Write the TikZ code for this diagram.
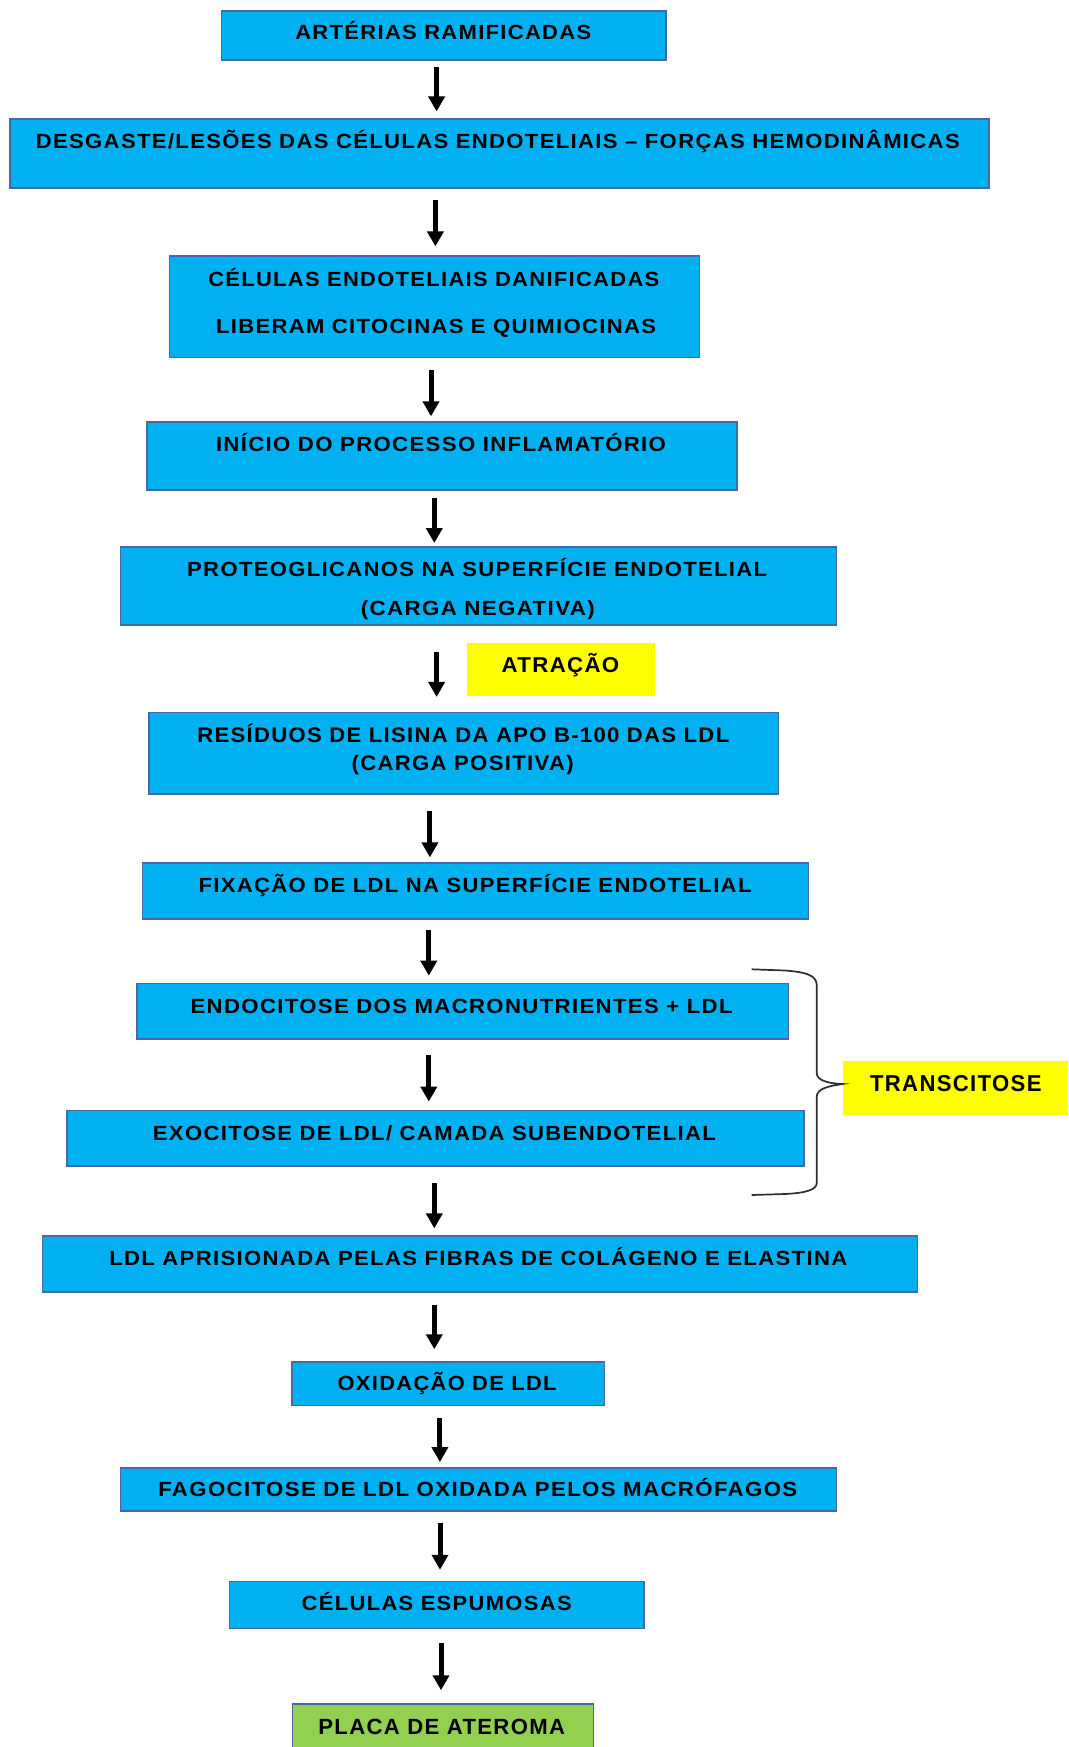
\documentclass[tikz,border=0pt]{standalone}
\usepackage{fontspec}
\usepackage{graphicx}
\setmainfont{Liberation Sans}
\newfontfamily\boxfont[LetterSpace=6]{Liberation Sans}
\usetikzlibrary{arrows.meta}

\definecolor{boxblue}{RGB}{0,176,240}
\definecolor{boxedge}{RGB}{68,104,168}
\definecolor{hiyellow}{RGB}{255,255,0}
\definecolor{plaquegreen}{RGB}{146,208,80}
\definecolor{bracegray}{RGB}{45,45,45}

% set a label to a given width by stretching it horizontally
\newlength\fitlen
\newcommand\fitw[2]{\settowidth\fitlen{#2}\pgfmathsetmacro\fitratio{#1/\fitlen}\scalebox{\fitratio}[1]{#2}}

\tikzset{
  box/.style={draw=boxedge, line width=1.5pt, fill=boxblue, inner sep=0pt},
  plaque/.style={draw=boxedge, line width=1.5pt, fill=plaquegreen, inner sep=0pt},
  tag/.style={fill=hiyellow, inner sep=0pt},
  lbl/.style={anchor=base, inner sep=0pt, font=\boxfont\bfseries\fontsize{#1}{#1}\selectfont},
  lbl/.default=20.5,
  flow/.style={line width=5pt, -{Triangle[width=16pt,length=15pt]}},
  brace/.style={draw=bracegray, line width=1.7pt}
}

\begin{document}
\begin{tikzpicture}[x=1pt,y=-1pt]
\useasboundingbox (0,0) rectangle (1068,1747);
\clip (0,0) rectangle (1068,1747);

% boxes
\node[box, minimum width=444.4pt, minimum height=49pt]   (b1)  at (443.8,35.6)   {};
\node[box, minimum width=978.9pt, minimum height=69pt]   (b2)  at (499.45,153.7) {};
\node[box, minimum width=530.1pt, minimum height=101.4pt](b3)  at (434.35,306.8) {};
\node[box, minimum width=590.2pt, minimum height=67.9pt] (b4)  at (442.1,456.05) {};
\node[box, minimum width=716.1pt, minimum height=78pt]   (b5)  at (478.35,585.8) {};
\node[box, minimum width=629.2pt, minimum height=81.3pt] (b6)  at (463.8,753.35) {};
\node[box, minimum width=666pt,   minimum height=55.7pt] (b7)  at (475.5,890.95) {};
\node[box, minimum width=651.5pt, minimum height=55.6pt] (b8)  at (462.75,1011.2){};
\node[box, minimum width=737.3pt, minimum height=55.7pt] (b9)  at (435.45,1138.15){};
\node[box, minimum width=875.4pt, minimum height=55.7pt] (b10) at (480,1263.95)  {};
\node[box, minimum width=312.9pt, minimum height=43.4pt] (b11) at (448.25,1383.7){};
\node[box, minimum width=716.1pt, minimum height=43.4pt] (b12) at (478.35,1489.5){};
\node[box, minimum width=414.6pt, minimum height=47pt]   (b13) at (436.7,1605)   {};
\node[plaque, minimum width=300.6pt, minimum height=60pt](b14) at (443,1734)     {};

\node[tag, minimum width=188.6pt, minimum height=53.5pt] (attr)  at (561,669.5)    {};
\node[tag, minimum width=230pt,   minimum height=54.3pt] (trans) at (957.7,1087.85){};

% texts
\node[lbl] (t1)  at (443.3,39.5)   {\fitw{296}{ARTÉRIAS RAMIFICADAS}};
\node[lbl] (t2)  at (497.8,148.6)  {\fitw{924}{DESGASTE/LESÕES DAS CÉLULAS ENDOTELIAIS – FORÇAS HEMODINÂMICAS}};
\node[lbl] (t3a) at (433.8,286.2)  {\fitw{451}{CÉLULAS ENDOTELIAIS DANIFICADAS}};
\node[lbl] (t3b) at (436,333.9)    {\fitw{440}{LIBERAM CITOCINAS E QUIMIOCINAS}};
\node[lbl] (t4)  at (441,451.6)    {\fitw{450}{INÍCIO DO PROCESSO INFLAMATÓRIO}};
\node[lbl] (t5a) at (477.2,576.3)  {\fitw{580}{PROTEOGLICANOS NA SUPERFÍCIE ENDOTELIAL}};
\node[lbl] (t5b) at (477.8,615.2)  {\fitw{234}{(CARGA NEGATIVA)}};
\node[lbl=21.5] (ta) at (560.5,672.7) {\fitw{117.6}{ATRAÇÃO}};
\node[lbl=21] (t6a) at (463.3,742.3) {\fitw{532}{RESÍDUOS DE LISINA DA APO B-100 DAS LDL}};
\node[lbl=21] (t6b) at (462.7,770.3) {\fitw{222}{(CARGA POSITIVA)}};
\node[lbl] (t7)  at (475,892.6)    {\fitw{553}{FIXAÇÃO DE LDL NA SUPERFÍCIE ENDOTELIAL}};
\node[lbl] (t8)  at (461.6,1013.9) {\fitw{542}{ENDOCITOSE DOS MACRONUTRIENTES + LDL}};
\node[lbl] (t9)  at (434.4,1140.2) {\fitw{563}{EXOCITOSE DE LDL/ CAMADA SUBENDOTELIAL}};
\node[lbl=23] (tt) at (955.8,1091.5) {\fitw{171.5}{TRANSCITOSE}};
\node[lbl] (t10) at (478.3,1265.4) {\fitw{738}{LDL APRISIONADA PELAS FIBRAS DE COLÁGENO E ELASTINA}};
\node[lbl] (t11) at (447.1,1390.4) {\fitw{219}{OXIDAÇÃO DE LDL}};
\node[lbl] (t12) at (477.8,1496.1) {\fitw{639}{FAGOCITOSE DE LDL OXIDADA PELOS MACRÓFAGOS}};
\node[lbl] (t13) at (436.7,1610.9) {\fitw{270}{CÉLULAS ESPUMOSAS}};
\node[lbl=22] (t14) at (441.7,1734.6) {\fitw{246.7}{PLACA DE ATEROMA}};

% arrow columns
\coordinate (c1)  at (436.6,0);
\coordinate (c2)  at (435.4,0);
\coordinate (c3)  at (431.0,0);
\coordinate (c4)  at (434.3,0);
\coordinate (c5)  at (436.6,0);
\coordinate (c6)  at (429.9,0);
\coordinate (c7)  at (428.8,0);
\coordinate (c8)  at (428.8,0);
\coordinate (c9)  at (434.3,0);
\coordinate (c10) at (434.3,0);
\coordinate (c11) at (439.9,0);
\coordinate (c12) at (440.0,0);
\coordinate (c13) at (441.0,0);

% arrows
\draw[flow, shorten <=6pt,  shorten >=7pt]  (b1.south -| c1)  -- (b2.north -| c1);
\draw[flow, shorten <=11pt, shorten >=9pt]  (b2.south -| c2)  -- (b3.north -| c2);
\draw[flow, shorten <=12pt, shorten >=5pt]  (b3.south -| c3)  -- (b4.north -| c3);
\draw[flow, shorten <=7pt,  shorten >=3pt]  (b4.south -| c4)  -- (b5.north -| c4);
\draw[flow, shorten <=26pt, shorten >=15pt] (b5.south -| c5)  -- (b6.north -| c5);
\draw[flow, shorten <=16pt, shorten >=5pt]  (b6.south -| c6)  -- (b7.north -| c6);
\draw[flow, shorten <=10pt, shorten >=7pt]  (b7.south -| c7)  -- (b8.north -| c7);
\draw[flow, shorten <=15pt, shorten >=8pt]  (b8.south -| c8)  -- (b9.north -| c8);
\draw[flow, shorten <=16pt, shorten >=7pt]  (b9.south -| c9)  -- (b10.north -| c9);
\draw[flow, shorten <=12pt, shorten >=12pt] (b10.south -| c10) -- (b11.north -| c10);
\draw[flow, shorten <=12pt, shorten >=5pt]  (b11.south -| c11) -- (b12.north -| c11);
\draw[flow, shorten <=11pt, shorten >=11pt] (b12.south -| c12) -- (b13.north -| c12);
\draw[flow, shorten <=14pt, shorten >=13pt] (b13.south -| c13) -- (b14.north -| c13);

% brace grouping endocytosis and exocytosis
\draw[brace] (751.7,969.3) -- (785,970.5)
  .. controls (805,972) and (816.7,975) .. (816.7,985)
  -- (816.7,1073)
  .. controls (816.7,1081) and (830,1083.5) .. ([yshift=3.85pt]trans.west)
  .. controls (830,1086) and (816.7,1088) .. (816.7,1097)
  -- (816.7,1183)
  .. controls (816.7,1190) and (805,1193) .. (785,1194)
  -- (751.7,1195);
\end{tikzpicture}
\end{document}
